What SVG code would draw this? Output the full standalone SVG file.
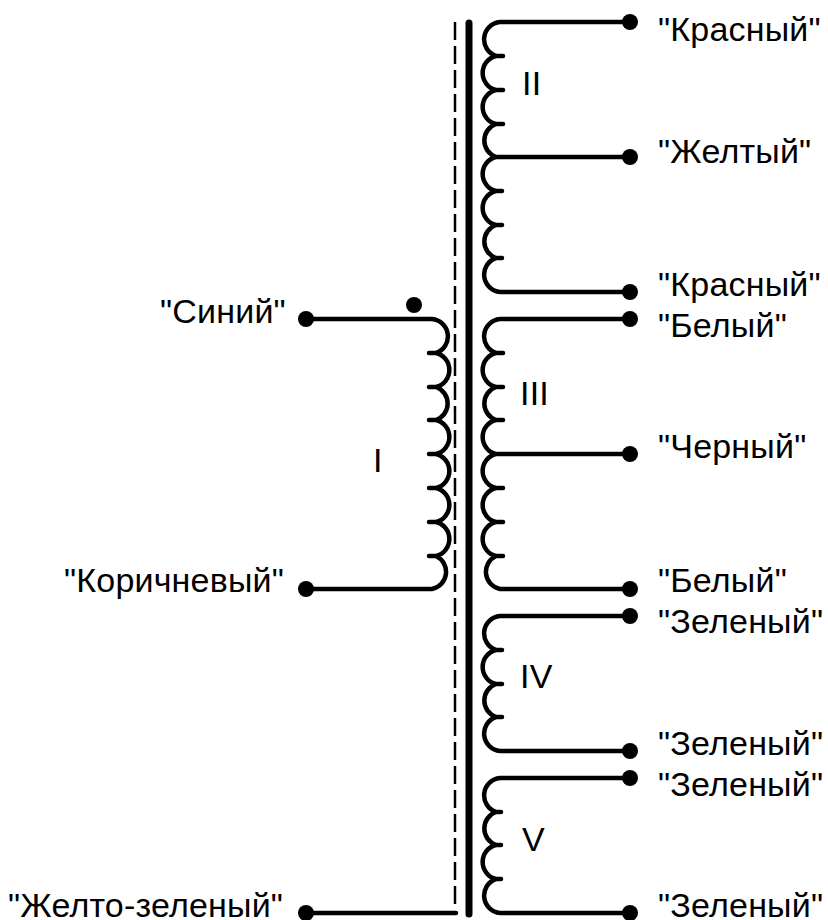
<svg xmlns="http://www.w3.org/2000/svg" width="828" height="920" viewBox="0 0 828 920">
<style>
.w{fill:none;stroke:#000;stroke-width:4.5;stroke-linecap:round;stroke-linejoin:round}
.d{fill:#000;stroke:none}
text{font-family:"Liberation Sans",Arial,sans-serif;font-size:34px;letter-spacing:.2px;fill:#000}
</style>
<rect width="828" height="920" fill="#fff"/>
<g id="connectors">
<path id="core" d="M469 23V914" fill="none" stroke="#000" stroke-width="7" stroke-linecap="round"/>
<path id="shield" d="M455 22V905" fill="none" stroke="#000" stroke-width="2.5" stroke-dasharray="18 6"/>
<path id="ground" class="w" d="M306 913H456"/>
</g>
<g id="winding-I">
<path class="w" d="M306 319H432A17.5 17.5 0 0 1 436 353H429M436 353A17.5 17.5 0 0 1 436 387H429M436 387A17.5 17.5 0 0 1 436 420H429M436 420A17.5 17.5 0 0 1 436 454H429M436 454A17.5 17.5 0 0 1 436 488H429M436 488A17.5 17.5 0 0 1 436 522H429M436 522A17.5 17.5 0 0 1 436 556H429M436 556A17.5 17.5 0 0 1 432 589H306"/>
<circle class="d" cx="306" cy="319" r="8"/><circle class="d" cx="306" cy="589" r="8"/><circle class="d" cx="414" cy="305" r="8"/>
<text x="160" y="323">"Синий"</text><text x="64" y="592">"Коричневый"</text><text x="373" y="472">I</text>
</g>
<g id="winding-II">
<path class="w" d="M630 22H500A17.5 17.5 0 0 0 496 56H503M496 56A17.5 17.5 0 0 0 496 90H503M496 90A17.5 17.5 0 0 0 496 124H503M496 124A17.5 17.5 0 0 0 496 157H630M496 157A17.5 17.5 0 0 0 496 191H502M496 191A17.5 17.5 0 0 0 496 225H502M496 225A17.5 17.5 0 0 0 496 258H502M496 258A17.5 17.5 0 0 0 500 292H630"/>
<circle class="d" cx="630" cy="22" r="8"/><circle class="d" cx="630" cy="157" r="8"/><circle class="d" cx="630" cy="292" r="8"/>
<text x="658" y="41">"Красный"</text><text x="658" y="163">"Желтый"</text><text x="658" y="296">"Красный"</text><text x="522" y="95">II</text>
</g>
<g id="winding-III">
<path class="w" d="M630 319H500A17.5 17.5 0 0 0 496 353H503M496 353A17.5 17.5 0 0 0 496 387H503M496 387A17.5 17.5 0 0 0 496 420H503M496 420A17.5 17.5 0 0 0 496 454H630M496 454A17.5 17.5 0 0 0 496 488H503M496 488A17.5 17.5 0 0 0 496 522H503M496 522A17.5 17.5 0 0 0 496 556H503M496 556A17.5 17.5 0 0 0 500 589H630"/>
<circle class="d" cx="630" cy="319" r="8"/><circle class="d" cx="630" cy="454" r="8"/><circle class="d" cx="630" cy="589" r="8"/>
<text x="658" y="337">"Белый"</text><text x="658" y="458">"Черный"</text><text x="658" y="592">"Белый"</text><text x="520" y="405">III</text>
</g>
<g id="winding-IV">
<path class="w" d="M630 616H500A17.5 17.5 0 0 0 496 650H502M496 650A17.5 17.5 0 0 0 496 684H502M496 684A17.5 17.5 0 0 0 496 717H502M496 717A17.5 17.5 0 0 0 500 751H630"/>
<circle class="d" cx="630" cy="616" r="8"/><circle class="d" cx="630" cy="751" r="8"/>
<text x="658" y="633">"Зеленый"</text><text x="658" y="755">"Зеленый"</text><text x="520" y="688">IV</text>
</g>
<g id="winding-V">
<path class="w" d="M630 778H500A17.5 17.5 0 0 0 496 812H501M496 812A17.5 17.5 0 0 0 496 845H501M496 845A17.5 17.5 0 0 0 496 879H501M496 879A17.5 17.5 0 0 0 500 913H630"/>
<circle class="d" cx="630" cy="778" r="8"/><circle class="d" cx="630" cy="913" r="8"/>
<text x="658" y="796">"Зеленый"</text><text x="658" y="917">"Зеленый"</text><text x="522" y="851">V</text>
</g>
<g id="earth"><circle class="d" cx="306" cy="913" r="8"/><text x="8" y="917">"Желто-зеленый"</text></g>
</svg>
